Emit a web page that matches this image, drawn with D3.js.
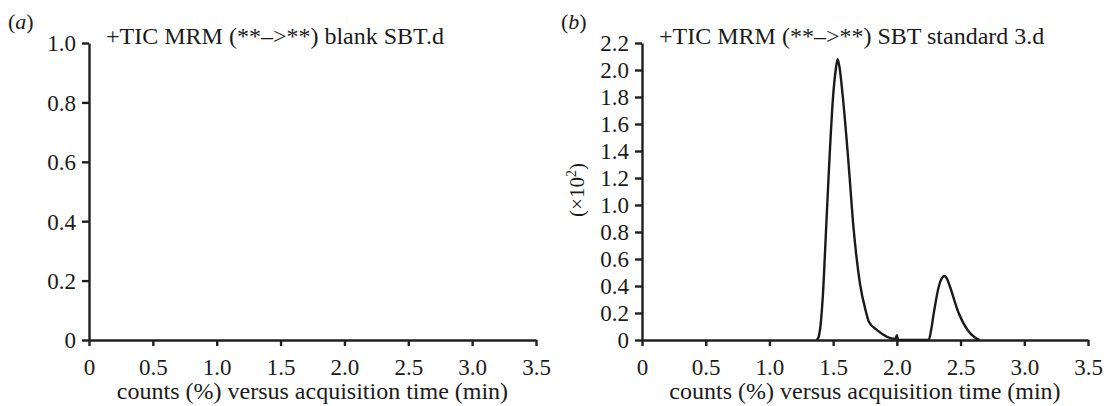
<!DOCTYPE html>
<html>
<head>
<meta charset="utf-8">
<script src="https://cdn.jsdelivr.net/npm/d3@7"></script>
<style>
  body { margin: 0; background: #fff; }
  svg text { font-family: "Liberation Serif", "DejaVu Serif", serif; fill: #1a1a1a; }
  .axis path, .axis line { stroke: #1f1f1f; stroke-width: 2.4; }
  .axis text { font-size: 23px; }
</style>
</head>
<body>
<svg id="chart" width="1104" height="406"></svg>
<script>
// data
const xTicks = [0, 0.5, 1.0, 1.5, 2.0, 2.5, 3.0, 3.5];
const yTicksA = [0, 0.2, 0.4, 0.6, 0.8, 1.0];
const yTicksB = [0, 0.2, 0.4, 0.6, 0.8, 1.0, 1.2, 1.4, 1.6, 1.8, 2.0, 2.2];
const titleA = "+TIC MRM (**–>**) blank SBT.d";
const titleB = "+TIC MRM (**–>**) SBT standard 3.d";
const xLabel = "counts (%) versus acquisition time (min)";

// chromatogram of panel b (time in min, counts x10^2)
const timeB = [1.37, 1.385, 1.40, 1.42, 1.445, 1.47, 1.50, 1.52, 1.535, 1.55, 1.575, 1.62, 1.66, 1.71, 1.76, 1.78, 1.85, 1.92, 1.97, 1.99, 2.0, 2.01, 2.25, 2.27, 2.29, 2.33, 2.355, 2.375, 2.395, 2.415, 2.485, 2.555, 2.61, 2.65];
const countsB = [0, 0.02, 0.1, 0.34, 0.83, 1.32, 1.81, 2.0, 2.08, 2.02, 1.81, 1.32, 0.83, 0.42, 0.2, 0.135, 0.07, 0.025, 0.01, 0.01, 0.035, 0, 0, 0.08, 0.2, 0.4, 0.46, 0.474, 0.45, 0.4, 0.2, 0.074, 0.02, 0];

const svg = d3.select("#chart");
const fmt = d => d === 0 ? "0" : d3.format(".1f")(d);

function panel(opts) {
    const x = d3.scaleLinear().domain([0, 3.5]).range([opts.left, opts.right]);
    const y = d3.scaleLinear().domain([0, opts.yMax]).range([340, 43]);

    // x axis
    svg.append("g")
        .attr("class", "axis")
        .attr("transform", `translate(0,${y(0)})`)
        .call(d3.axisBottom(x).tickValues(xTicks).tickSize(6).tickSizeOuter(0).tickFormat(fmt))
        .call(g => g.attr("font-family", null).attr("font-size", null))
        .call(g => g.selectAll("text").attr("y", 16).attr("dy", "0.82em"));

    // y axis
    svg.append("g")
        .attr("class", "axis")
        .attr("transform", `translate(${opts.left},0)`)
        .call(d3.axisLeft(y).tickValues(opts.yTicks).tickSize(7).tickSizeOuter(0).tickFormat(fmt))
        .call(g => g.attr("font-family", null).attr("font-size", null))
        .call(g => g.selectAll("text").attr("x", -13).attr("dy", "0.34em"));

    // title inside plot
    svg.append("text")
        .attr("x", opts.left + 17)
        .attr("y", 44)
        .style("font-size", "24px")
        .text(opts.title);

    // panel letter
    svg.append("text")
        .attr("x", opts.left - 81)
        .attr("y", 29)
        .style("font-size", "22px")
        .html(`(<tspan font-style="italic">${opts.letter}</tspan>)`);

    // x axis label
    svg.append("text")
        .attr("x", (opts.left + opts.right) / 2)
        .attr("y", 399)
        .attr("text-anchor", "middle")
        .style("font-size", "24px")
        .text(xLabel);

    return { x, y };
}

const a = panel({ left: 89, right: 536, yMax: 1.0, yTicks: yTicksA, title: titleA, letter: "a" });
const b = panel({ left: 642, right: 1088, yMax: 2.2, yTicks: yTicksB, title: titleB, letter: "b" });

// y unit label on panel b
svg.append("text")
    .attr("transform", "translate(584,190) rotate(-90)")
    .attr("text-anchor", "middle")
    .style("font-size", "21px")
    .html('(×10<tspan dy="-8" font-size="14px">2</tspan><tspan dy="8">)</tspan>');

// trace
const line = d3.line()
    .x((d, i) => b.x(timeB[i]))
    .y(d => b.y(d))
    .curve(d3.curveMonotoneX);

svg.append("path")
    .datum(countsB)
    .attr("fill", "none")
    .attr("stroke", "#1a1a1a")
    .attr("stroke-width", 2.4)
    .attr("stroke-linejoin", "round")
    .attr("d", line);
</script>
</body>
</html>
